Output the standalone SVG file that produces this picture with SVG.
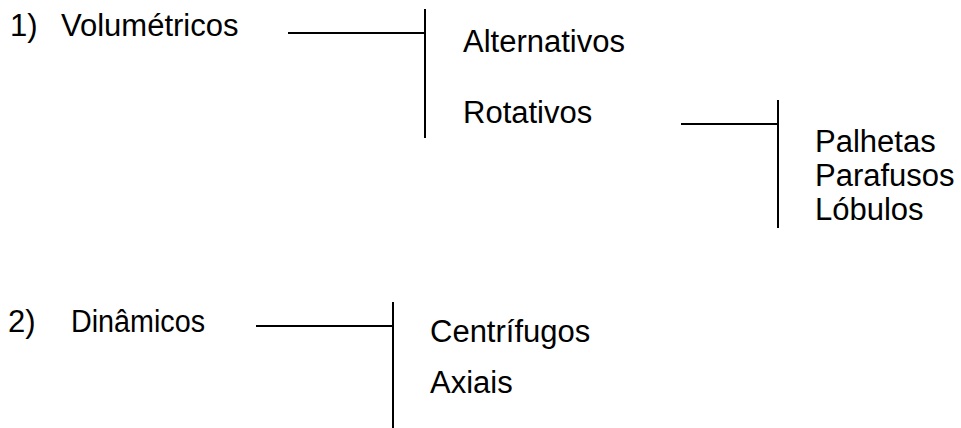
<svg xmlns="http://www.w3.org/2000/svg" width="961" height="428" viewBox="0 0 961 428">
<style>
text{font-family:"Liberation Sans",Arial,sans-serif;font-size:31px;fill:#000}
.c line{stroke:#000;stroke-width:2}
</style>
<rect width="961" height="428" fill="#fff"/>
<g id="volumetricos"><text x="10" y="36">1)</text><text x="61" y="36">Volumétricos</text></g>
<g id="alternativos"><text x="463" y="52">Alternativos</text></g>
<g id="rotativos"><text x="463" y="123">Rotativos</text></g>
<g id="rotativos-tipos"><text x="815" y="152">Palhetas</text><text x="815" y="186">Parafusos</text><text x="815" y="220">Lóbulos</text></g>
<g id="dinamicos"><text x="8" y="332">2)</text><text x="71" y="332" textLength="134" lengthAdjust="spacingAndGlyphs">Dinâmicos</text></g>
<g id="centrifugos"><text x="430" y="342">Centrífugos</text></g>
<g id="axiais"><text x="430" y="393">Axiais</text></g>
<g class="c" id="connectors">
<line x1="288" y1="33" x2="425" y2="33"/><line x1="425" y1="9" x2="425" y2="138"/>
<line x1="681" y1="124" x2="778" y2="124"/><line x1="778" y1="100" x2="778" y2="228"/>
<line x1="256" y1="326" x2="393" y2="326"/><line x1="393" y1="302" x2="393" y2="428"/>
</g>
</svg>
